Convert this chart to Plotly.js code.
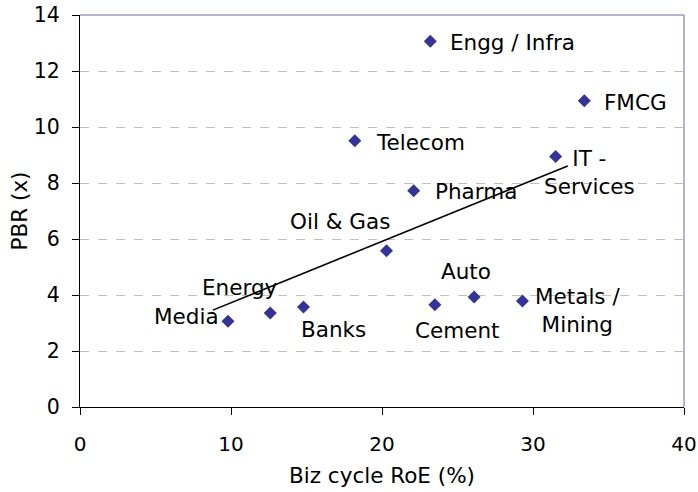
<!DOCTYPE html>
<html>
<head>
<meta charset="utf-8">
<script src="https://cdn.plot.ly/plotly-3.0.1.min.js"></script>
<style>
  html, body { margin: 0; padding: 0; background: #ffffff; }
  #chart { width: 698px; height: 492px; }
</style>
</head>
<body>
<div id="chart"></div>
<script>
// sectors
var sectors = ["Media", "Energy", "Banks", "Oil & Gas", "Cement", "Auto", "Metals /<br>Mining",
               "Engg / Infra", "FMCG", "Telecom", "IT -<br>Services", "Pharma"];
var roe = [9.8, 12.6, 14.8, 20.3, 23.5, 26.1, 29.3, 23.2, 33.4, 18.2, 31.5, 22.1];
var pbr = [3.06, 3.36, 3.57, 5.58, 3.65, 3.93, 3.79, 13.06, 10.94, 9.51, 8.95, 7.72];

// trend line end points
var trendX = [8.8, 32.3];
var trendY = [3.46, 8.61];

// label placement relative to each marker (pixels)
var labelPos = [
  {xa: "right",  dx: -7,  dy: 5},
  {xa: "center", dx: -30, dy: 25},
  {xa: "left",   dx: -4,  dy: -22},
  {xa: "center", dx: -47, dy: 29},
  {xa: "center", dx: 22,  dy: -26},
  {xa: "center", dx: -8,  dy: 25},
  {xa: "center", dx: 55,  dy: -10},
  {xa: "left",   dx: 18,  dy: -1},
  {xa: "left",   dx: 18,  dy: -2},
  {xa: "left",   dx: 19,  dy: -2},
  {xa: "center", dx: 34,  dy: -16},
  {xa: "left",   dx: 19,  dy: -1}
];

var font = "DejaVu Sans, Verdana, sans-serif";

var points = {
  x: roe,
  y: pbr,
  mode: "markers",
  type: "scatter",
  marker: {symbol: "diamond", size: 10, color: "#333399"},
  hoverinfo: "skip",
  showlegend: false
};

var trend = {
  x: trendX,
  y: trendY,
  mode: "lines",
  type: "scatter",
  line: {color: "#000000", width: 1.6},
  hoverinfo: "skip",
  showlegend: false
};

var annotations = sectors.map(function (s, i) {
  return {
    x: roe[i], y: pbr[i], xref: "x", yref: "y",
    text: s, showarrow: false,
    xanchor: labelPos[i].xa, yanchor: "middle",
    xshift: labelPos[i].dx, yshift: labelPos[i].dy,
    align: "center",
    font: {family: font, size: 21.5, color: "#000000"}
  };
});

var layout = {
  width: 698,
  height: 492,
  margin: {l: 80, r: 14, t: 15, b: 85},
  paper_bgcolor: "#ffffff",
  plot_bgcolor: "#ffffff",
  font: {family: font, size: 20, color: "#000000"},
  xaxis: {
    range: [0, 40],
    tickvals: [0, 10, 20, 30, 40],
    showgrid: false,
    zeroline: false,
    showline: true, linecolor: "#000000", linewidth: 1,
    ticks: "outside", ticklen: 7, tickcolor: "#000000",
    ticklabelstandoff: 12,
    tickfont: {family: font, size: 20},
    title: {text: "Biz cycle RoE (%)", font: {family: font, size: 21.5}, standoff: 12}
  },
  yaxis: {
    range: [0, 14],
    tickvals: [0, 2, 4, 6, 8, 10, 12, 14],
    showgrid: true, gridcolor: "#c0c0c0", griddash: "dash", gridwidth: 1,
    zeroline: false,
    showline: true, linecolor: "#000000", linewidth: 1,
    ticks: "outside", ticklen: 7, tickcolor: "#000000",
    ticklabelstandoff: 8,
    tickfont: {family: font, size: 20.5},
    title: {text: "PBR (x)", font: {family: font, size: 21.5}, standoff: 0}
  },
  shapes: [
    {type: "line", xref: "paper", yref: "paper", x0: 0, x1: 1, y0: 1, y1: 1,
     line: {color: "#9a9ac8", width: 1.5}},
    {type: "line", xref: "paper", yref: "paper", x0: 1, x1: 1, y0: 0, y1: 1,
     line: {color: "#9a9ac8", width: 1.5}}
  ],
  annotations: annotations
};

Plotly.newPlot("chart", [trend, points], layout, {displayModeBar: false, staticPlot: true});
</script>
</body>
</html>
